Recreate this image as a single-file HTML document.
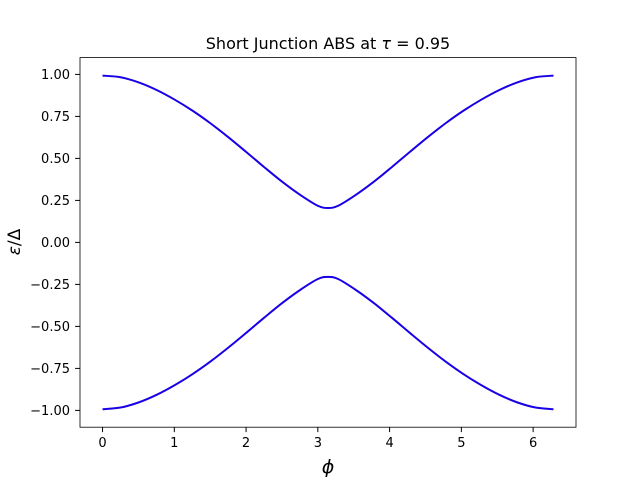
<!DOCTYPE html>
<html><head><meta charset="utf-8"><style>
body{margin:0;background:#fff}
svg text{font-family:"DejaVu Sans","Liberation Sans",sans-serif;fill:#000}
</style></head><body>
<svg id="chart" width="640" height="480" xmlns="http://www.w3.org/2000/svg">
<rect width="640" height="480" fill="#fff"/>
<g id="plot"></g>
<rect x="80" y="57.6" width="496" height="369.6" fill="none" stroke="#000" stroke-width="0.8"/>
<text x="328" y="49" font-size="16" text-anchor="middle">Short Junction ABS at <tspan font-style="italic">τ</tspan> = 0.95</text>
<text x="328" y="473" font-size="19" font-style="italic" text-anchor="middle">ϕ</text>
<text transform="translate(20,242) rotate(-90)" font-size="17" text-anchor="middle"><tspan font-style="italic">ε</tspan>/Δ</text>
<g id="ticks"></g>
</svg>
<script>
const phi = [0, 0.25, 0.5, 0.75, 1, 1.25, 1.5, 1.75, 2, 2.25, 2.5, 2.75, 3, 3.1416, 3.283, 3.533, 3.783, 4.033, 4.283, 4.533, 4.783, 5.033, 5.283, 5.533, 5.783, 6.033, 6.2832];
const upper = [0.993, 0.983, 0.953, 0.908, 0.851, 0.785, 0.710, 0.627, 0.539, 0.449, 0.362, 0.284, 0.218, 0.205, 0.218, 0.284, 0.362, 0.449, 0.539, 0.627, 0.710, 0.785, 0.851, 0.908, 0.953, 0.983, 0.993];
const lower = [-0.993, -0.983, -0.953, -0.908, -0.851, -0.785, -0.710, -0.627, -0.539, -0.449, -0.362, -0.284, -0.218, -0.205, -0.218, -0.284, -0.362, -0.449, -0.539, -0.627, -0.710, -0.785, -0.851, -0.908, -0.953, -0.983, -0.993];
const xTicks = [0, 1, 2, 3, 4, 5, 6];
const yTicks = [-1, -0.75, -0.5, -0.25, 0, 0.25, 0.5, 0.75, 1];
const yTickLabels = ["−1.00", "−0.75", "−0.50", "−0.25", "0.00", "0.25", "0.50", "0.75", "1.00"];

const NS = "http://www.w3.org/2000/svg";
const xmin = -0.31416, xmax = 6.59734, ymin = -1.1, ymax = 1.1;
const L = 80, R = 576, T = 57.6, B = 427.2;
const sx = v => L + (v - xmin) / (xmax - xmin) * (R - L);
const sy = v => B - (v - ymin) / (ymax - ymin) * (B - T);

function smoothPath(xs, ys) {
  const p = xs.map((x, i) => [sx(x), sy(ys[i])]);
  let d = "M" + p[0][0] + "," + p[0][1];
  for (let i = 0; i < p.length - 1; i++) {
    const p0 = p[Math.max(0, i - 1)], p1 = p[i], p2 = p[i + 1], p3 = p[Math.min(p.length - 1, i + 2)];
    const c1 = [p1[0] + (p2[0] - p0[0]) / 6, p1[1] + (p2[1] - p0[1]) / 6];
    const c2 = [p2[0] - (p3[0] - p1[0]) / 6, p2[1] - (p3[1] - p1[1]) / 6];
    d += " C" + c1.join(",") + " " + c2.join(",") + " " + p2.join(",");
  }
  return d;
}
const plot = document.getElementById("plot");
[["upper-branch", upper], ["lower-branch", lower]].forEach(([n, ys]) => {
  const path = document.createElementNS(NS, "path");
  path.setAttribute("d", smoothPath(phi, ys));
  path.setAttribute("fill", "none");
  path.setAttribute("stroke", "#1a00e6");
  path.setAttribute("stroke-width", "2");
  
  
  plot.appendChild(path);
});
const tg = document.getElementById("ticks");
xTicks.forEach(v => {
  const x = sx(v);
  const ln = document.createElementNS(NS, "line");
  ln.setAttribute("x1", x); ln.setAttribute("x2", x);
  ln.setAttribute("y1", B); ln.setAttribute("y2", B + 4.9);
  ln.setAttribute("stroke", "#000"); ln.setAttribute("stroke-width", "1");
  
  
  tg.appendChild(ln);
  const t = document.createElementNS(NS, "text");
  t.setAttribute("x", x); t.setAttribute("y", B + 20);
  t.setAttribute("font-size", "13"); t.setAttribute("text-anchor", "middle");
  t.textContent = String(v);
  
  
  tg.appendChild(t);
});
yTicks.forEach((v, i) => {
  const y = sy(v);
  const ln = document.createElementNS(NS, "line");
  ln.setAttribute("x1", L - 4.9); ln.setAttribute("x2", L);
  ln.setAttribute("y1", y); ln.setAttribute("y2", y);
  ln.setAttribute("stroke", "#000"); ln.setAttribute("stroke-width", "1");
  
  
  tg.appendChild(ln);
  const t = document.createElementNS(NS, "text");
  t.setAttribute("x", L - 10); t.setAttribute("y", y + 4.8);
  t.setAttribute("font-size", "13"); t.setAttribute("text-anchor", "end");
  t.textContent = yTickLabels[i];
  
  
  tg.appendChild(t);
});
</script>
</body></html>
